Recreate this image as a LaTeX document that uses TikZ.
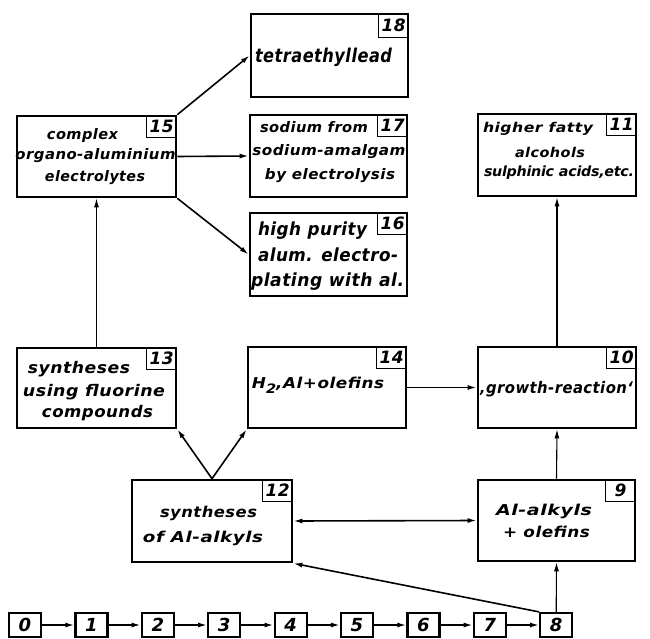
\documentclass[tikz,border=0pt]{standalone}
\usepackage{fontspec}
\usepackage{graphicx}
\setsansfont{DejaVu Sans}[LetterSpace=3]
\usetikzlibrary{arrows.meta}
\newcommand{\fitw}[2]{\resizebox{#1pt}{\height}{#2}}
\newcommand{\fsz}[1]{\fontsize{#1}{#1}\selectfont}
\tikzset{
  box/.style={draw, line width=2.7pt, inner sep=0pt, rectangle},
  tag/.style={draw, line width=1.4pt, inner sep=0pt, minimum width=30pt, minimum height=22pt, anchor=north east, font=\sffamily\bfseries\itshape\fsz{17}},
  sm/.style={draw, line width=2.2pt, inner sep=0pt, minimum width=32pt, minimum height=24pt, font=\sffamily\bfseries\itshape\fsz{18}},
  txt/.style={anchor=base, inner sep=0pt, font=\sffamily\bfseries\itshape},
  conn/.style={line width=1.6pt, -{Latex[length=9pt,width=5pt]}},
  thin/.style={line width=1.1pt, -{Latex[length=9pt,width=5pt]}},
}
\begin{document}
\begin{tikzpicture}[x=1pt,y=-1pt]
\useasboundingbox (0,0) rectangle (650,639);
% boxes
\node[box, minimum width=157pt, minimum height=83pt] (b18) at (329.5,55.5) {};
\node[box, minimum width=159pt, minimum height=81pt] (b15) at (96.5,156.5) {};
\node[box, minimum width=157pt, minimum height=82pt] (b17) at (328.5,156) {};
\node[box, minimum width=157pt, minimum height=83pt] (b16) at (328.5,254.5) {};
\node[box, minimum width=158pt, minimum height=82pt] (b11) at (557,155) {};
\node[box, minimum width=159pt, minimum height=80pt] (b13) at (96.5,388) {};
\node[box, minimum width=158pt, minimum height=81pt] (b14) at (327,387.5) {};
\node[box, minimum width=158pt, minimum height=81pt] (b10) at (557,387.5) {};
\node[box, minimum width=160pt, minimum height=82pt] (b12) at (212,521) {};
\node[box, minimum width=157pt, minimum height=81pt] (b9) at (556.5,520.5) {};
% tags
\node[tag, minimum height=24pt] (g18) at (b18.north east) {18};
\node[tag] (g15) at (b15.north east) {15};
\node[tag] (g17) at (b17.north east) {17};
\node[tag] (g16) at (b16.north east) {16};
\node[tag] (g11) at (b11.north east) {11};
\node[tag] (g13) at (b13.north east) {13};
\node[tag] (g14) at (b14.north east) {14};
\node[tag] (g10) at (b10.north east) {10};
\node[tag] (g12) at (b12.north east) {12};
\node[tag] (g9) at (b9.north east) {9};
% texts
\node[txt] (t18) at (323.5,63) {\fsz{19}\fitw{137}{tetraethyllead}};
\node[txt] (t15a) at (82.5,140) {\fsz{14.5}\fitw{71}{complex}};
\node[txt] (t15b) at (95.5,160) {\fsz{14.5}\fitw{160}{organo-aluminium}};
\node[txt] (t15c) at (95,182) {\fsz{14.5}\fitw{100}{electrolytes}};
\node[txt] (t17a) at (314,133) {\fsz{14.5}\fitw{108}{sodium from}};
\node[txt] (t17b) at (329,156) {\fsz{14.5}\fitw{153}{sodium-amalgam}};
\node[txt] (t17c) at (330,180) {\fsz{14.5}\fitw{130}{by electrolysis}};
\node[txt] (t16a) at (312.5,235) {\fsz{18}\fitw{109}{high purity}};
\node[txt] (t16b) at (328,261) {\fsz{18}\fitw{140}{alum. electro-}};
\node[txt] (t16c) at (327.5,286) {\fsz{18}\fitw{153}{plating with al.}};
\node[txt] (t11a) at (538,133) {\fsz{13.5}\fitw{110}{higher fatty}};
\node[txt] (t11b) at (550,158) {\fsz{13.5}\fitw{70}{alcohols}};
\node[txt] (t11c) at (559,177) {\fsz{14}\fitw{150}{\addfontfeature{LetterSpace=-2}sulphinic acids,etc.}};
\node[txt] (t13a) at (79,373) {\fsz{16}\fitw{102}{syntheses}};
\node[txt] (t13b) at (94,396) {\fsz{16}\fitw{142}{using fluorine}};
\node[txt] (t13c) at (97.5,417) {\fsz{16}\fitw{111}{compounds}};
\node[txt] (t14) at (318,388) {\fsz{15}\fitw{132}{H\raisebox{-5pt}{\fsz{13}2},Al+olefins}};
\node[txt] (t10) at (556.5,393) {\fsz{16}\fitw{153}{‚growth-reaction‘}};
\node[txt] (t12a) at (208.5,517) {\fsz{15}\fitw{97}{syntheses}};
\node[txt] (t12b) at (203,542) {\fsz{15}\fitw{120}{of Al-alkyls}};
\node[txt] (t9a) at (544,515) {\fsz{15}\fitw{96}{Al-alkyls}};
\node[txt] (t9b) at (546.5,537) {\fsz{15}\fitw{87}{+ olefins}};
% bottom chain
\foreach \i in {0,...,8} \node[sm] (n\i) at ({25+66.4*\i},625) {\i};
\foreach \i [evaluate=\i as \j using int(\i+1)] in {0,...,7}
  \draw[conn] (n\i.east) -- (n\j.west);
% connectors
\draw[conn] (b15.north east) -- (b18.west);
\draw[conn] (b15.east) -- (b17.west);
\draw[conn] (b15.south east) -- (b16.west);
\draw[thin] (b13.north) -- (b15.south);
\draw[conn] (b12.north) -- (b13.south east);
\draw[conn] (b12.north) -- (b14.south west);
\draw[conn] (b14.east) -- (b10.west);
\draw[thin] (b10.north) -- (b11.south);
\draw[thin] (b9.north) -- (b10.south);
\draw[line width=1.6pt, {Latex[length=9pt,width=5pt]}-{Latex[length=9pt,width=5pt]}] (b12.east) -- (b9.west);
\draw[conn] (n8.north west) -- (b12.south east);
\draw[thin] (n8.north) -- (b9.south);
\end{tikzpicture}
\end{document}
